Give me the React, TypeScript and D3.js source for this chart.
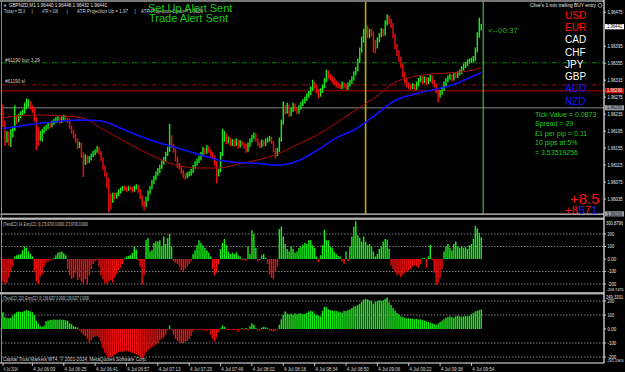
import React from "react";
import * as d3 from "d3";

// ---------- DATA (price in points above 1.96000) ----------
const firstOpen = 250;
const closes = [
  215,175,190,170,185,200,225,220,230,236,
  240,250,258,262,252,245,225,200,180,190,
  195,200,205,210,208,214,218,222,224,218,
  226,228,222,220,205,195,185,175,160,165,
  140,120,135,125,130,138,142,148,155,145,
  130,110,95,80,40,30,45,40,45,52,
  58,62,60,58,62,60,55,63,65,55,
  40,25,20,35,50,62,75,85,95,100,
  110,120,128,140,150,180,160,150,130,115,
  110,100,90,88,92,95,100,110,118,125,
  130,140,150,145,155,148,140,135,120,95,
  100,140,175,185,170,175,165,170,165,172,
  160,168,165,160,150,162,172,180,188,175,
  165,160,170,165,172,175,178,170,150,140,
  150,175,215,250,240,255,235,245,255,248,
  240,250,258,265,270,278,285,295,310,300,
  290,280,290,300,315,335,325,320,315,310,
  305,300,298,305,300,296,305,310,318,330,
  340,360,385,410,430,440,420,430,425,405,
  395,410,420,432,425,450,466,455,445,420,
  395,380,365,350,330,315,305,300,298,302,
  295,305,315,320,312,318,310,316,322,312,
  305,290,280,285,295,305,315,320,325,318,
  328,325,330,335,342,348,352,358,360,362,
  365,385,420,440,441,
];
const highs = [
  258,220,195,194,200,206,256,232,236,242,
  246,262,272,270,266,256,250,228,205,196,
  200,206,210,216,215,220,224,228,230,228,
  230,234,232,226,224,208,198,188,178,170,
  168,145,140,138,136,142,148,152,160,158,
  148,133,114,98,85,48,50,50,50,58,
  62,66,66,64,66,65,63,66,70,68,
  58,44,30,40,55,66,80,90,100,108,
  116,126,134,146,158,212,185,165,154,134,
  120,114,104,95,98,100,106,115,124,130,
  136,146,158,155,162,160,152,145,138,124,
  106,146,200,195,190,182,180,176,174,178,
  175,174,172,168,164,168,178,186,192,190,
  178,170,175,174,178,180,184,182,172,155,
  156,180,222,265,256,262,258,250,262,260,
  252,256,264,270,276,284,290,300,316,312,
  304,294,296,305,320,340,338,330,325,320,
  314,310,306,312,310,306,310,316,324,336,
  346,366,392,418,436,446,444,436,436,430,
  410,416,426,438,436,456,470,468,460,450,
  425,400,386,370,354,335,320,310,306,308,
  306,312,320,326,324,324,322,322,328,326,
  316,308,294,292,300,312,320,326,330,328,
  334,332,336,340,348,354,358,364,366,368,
  372,392,428,462,448,
];
const lows = [
  205,160,168,160,158,180,195,212,216,226,
  232,236,246,252,246,238,218,150,160,172,
  170,190,196,200,202,204,210,214,216,212,
  214,220,216,214,200,188,178,168,152,155,
  132,87,115,118,120,126,134,138,144,140,
  125,104,88,60,3,10,26,34,36,42,
  48,54,55,52,54,55,50,52,58,50,
  35,18,8,16,30,46,58,70,80,90,
  96,106,116,124,136,146,155,144,124,108,
  104,94,84,80,84,88,90,96,106,114,
  120,126,136,140,142,144,135,130,112,72,
  88,98,136,170,164,166,160,160,158,160,
  154,156,160,154,144,146,158,168,176,170,
  160,155,156,160,160,168,170,165,145,130,
  136,146,170,210,234,236,228,230,240,242,
  235,236,246,254,260,266,274,280,290,295,
  284,272,276,285,296,310,318,314,308,304,
  298,296,294,294,296,292,292,300,306,314,
  326,336,356,380,404,424,414,414,418,380,
  378,390,404,416,418,420,444,448,438,414,
  388,372,358,344,322,308,298,294,292,294,
  290,292,300,310,306,308,304,306,312,306,
  298,284,262,274,280,290,300,310,316,312,
  314,320,320,326,330,338,344,348,354,356,
  358,360,380,415,432,
];

// moving averages, read every 10 bars
const maBars = [0,10,20,30,40,50,60,70,80,90,100,110,120,130,140,150,160,170,180,190,200,210,220,230,240,244];
const maBlue = [201,208,214,219,221,219,202,183,167,154,140,127,121,119,115,124,149,179,200,233,267,282,293,305,325,333];
const maRed = [226,232,233,231,227,202,176,151,129,113,108,108,117,127,141,163,185,214,245,275,310,324,330,333,339,344];

// CCI(14) histogram
const cciFast = [
  -180,-200,-190,-150,-100,-60,20,30,35,40,
  70,100,90,60,40,20,-100,-180,-200,-140,
  -120,-60,-30,-20,-10,-5,10,30,50,55,
  60,45,30,-80,-130,-160,-150,-110,-170,-150,
  -180,-200,-160,-200,-130,-80,-40,-20,-5,-60,
  -130,-160,-190,-200,-180,-170,-190,-150,-120,-90,
  -70,-40,5,20,25,30,50,100,75,-10,
  -60,-205,-130,154,168,60,70,128,141,141,
  150,100,180,120,168,200,100,-20,-30,-40,
  -60,-90,-100,-80,-60,-40,-20,40,70,110,
  150,130,110,90,70,50,20,-80,-130,-110,
  -40,80,130,160,110,60,40,50,40,55,
  30,20,-10,5,-15,100,40,230,200,90,
  -20,0,30,40,10,-40,-120,-150,-160,-100,
  -60,240,260,180,120,80,60,100,80,50,
  60,90,100,114,128,120,150,150,110,90,
  20,-25,30,110,234,150,150,100,90,60,
  40,25,20,-20,-40,60,-15,100,180,260,
  300.88,190,170,140,180,140,110,120,100,60,
  20,40,80,100,140,160,155,80,-50,-80,
  -100,-130,-120,-145,-130,-110,-100,-90,-80,-60,
  -50,-60,-70,-40,10,10,-70,20,114,-10,
  -110,-209.75,-190,-150,-80,60,100,120,90,70,
  120,140,100,90,100,90,95,80,110,120,
  160,265,245,210,173.97,
];
// CCI(210) histogram
const cciSlow = [
  120,85,80,76,80,95,110,120,125,122,
  124,128,135,130,125,120,100,60,40,20,
  15,25,55,60,65,66,68,66,66,68,
  66,65,62,58,40,35,20,15,10,-10,
  -25,-40,-50,-70,-100,-80,-60,-55,-50,-60,
  -90,-140,-170,-190,-205,-200,-195,-185,-175,-165,
  -160,-165,-160,-155,-160,-165,-170,-175,-180,-190,
  -200,-210,-190,-165,-150,-140,-130,-120,-110,-100,
  -80,-70,-60,-40,-10,25,-5,-40,-70,-85,
  -95,-100,-100,-90,-85,-70,-50,-20,-5,-10,
  -8,-5,-10,-8,-15,-5,-40,-70,-90,-60,
  -20,5,25,15,-5,-8,-5,-3,-10,-5,
  -20,-3,5,-8,8,-10,20,40,30,5,
  -8,-3,10,15,12,5,-10,-15,-20,-12,
  -5,30,70,100,125,110,105,110,100,112,
  105,110,112,105,108,115,125,130,125,110,
  100,95,90,130,160,155,140,135,132,130,
  128,126,120,115,130,128,135,140,150,160,
  165,170,180,195,210,215,210,205,200,180,
  195,200,205,200,205,215,225,190,170,150,
  130,115,105,90,85,80,75,78,72,75,
  70,72,68,70,65,60,55,50,45,40,
  35,30,40,50,60,70,80,85,90,85,
  80,90,95,90,88,90,92,90,95,105,
  115,125,130,135,139.62,
];

const priceTicks = [475, 395, 355, 315, 275, 235, 195, 155, 115, 75, 35];
const currentPrice = 441;
const buyLevel = 356;
const slLevel = 304;
const redLevel = 290;
const grayLevel = 250;
const baseLevel = 0;
const signalBar = 185;
const nowBar = 245;

const timeLabels = ["4 Jul 2014","4 Jul 06:09","4 Jul 06:25","4 Jul 06:41","4 Jul 06:57","4 Jul 07:13","4 Jul 07:29","4 Jul 07:46","4 Jul 08:02","4 Jul 08:18","4 Jul 08:34","4 Jul 08:50","4 Jul 09:06","4 Jul 09:22","4 Jul 09:38","4 Jul 09:54"];
const timeBars = [0,15,31,47,63,79,95,111,127,143,159,175,191,207,223,239];

const cciLevels = [200, 100, 0, -100, -200];
const cciLevelLabels = ["200", "100", "0.00", "-100", "-200"];
const cci1Extremes = ["300.8796", "-209.7475"];
const cci2Extremes = ["249.3331", "-241.1905"];

const currencies = ["USD","EUR","CAD","CHF","JPY","GBP","AUD","NZD"];
const currencyColors = ["#ff1010","#ff1010","#ffffff","#ffffff","#ffffff","#ffffff","#1414ff","#1414ff"];
const infoLines = ["Tick Value = 0.0873","Spread = 29","£1 per pip = 0.11","10 pips at 5%","= 3.53519256"];

const FONT = "'Liberation Sans', Arial, sans-serif";
const GREEN = "#18ec18";
const RED = "#f01010";

function T(props: any) {
  const { x, y, s, size = 5, fill = "#d8d8d8", len, anchor, weight } = props;
  return (
    <text x={x} y={y} fontSize={size} fill={fill} fontFamily={FONT} textAnchor={anchor}
      fontWeight={weight}
      textLength={len} lengthAdjust={len ? "spacingAndGlyphs" : undefined}>{s}</text>
  );
}

const fmtPrice = (v: number) => (1.96 + v / 100000).toFixed(5);

export default function App() {
  const N = closes.length;
  const x = d3.scaleLinear().domain([0, N - 1]).range([3, 3 + 1.96 * (N - 1)]);
  const y = d3.scaleLinear().domain([475, 35]).range([12.3, 199]);
  const yc1 = d3.scaleLinear().domain([200, -200]).range([234, 284]);
  const yc2 = d3.scaleLinear().domain([200, -200]).range([301, 357]);
  const AX = 604;

  const maLine = d3.line<number>()
    .x((_, i) => x(maBars[i]))
    .y((d) => y(d))
    .curve(d3.curveMonotoneX);

  const candles = closes.map((c, i) => {
    const o = i === 0 ? firstOpen : closes[i - 1];
    const hi = Math.max(highs[i], o, c);
    const lo = Math.min(lows[i], o, c);
    const col = c >= o ? GREEN : RED;
    return <rect key={"c" + i} x={x(i) - 0.7} y={y(hi)} width={1.4} height={Math.max(1, y(lo) - y(hi))} fill={col} />;
  });

  const hist = (arr: number[], ys: any, key: string) =>
    arr.map((v, i) => {
      const y0 = ys(0), y1 = ys(v);
      return <rect key={key + i} x={x(i) - 0.7} y={Math.min(y0, y1)} width={1.4}
        height={Math.max(0.8, Math.abs(y1 - y0))} fill={v >= 0 ? GREEN : RED} />;
    });

  const priceBox = (v: number, bg: string, fg: string, k: string) => (
    <g key={k}>
      <rect x={AX + 1} y={y(v) - 2.6} width={19} height={5.2} fill={bg} />
      <T x={AX + 3} y={y(v) + 1.7} s={fmtPrice(v)} size={4.6} fill={fg} len={15} />
    </g>
  );

  return (
    <svg width={625} height={372} style={{ position: "absolute", left: 0, top: 0, display: "block" }}>
      <rect x={0} y={0} width={625} height={372} fill="#000" />

      {/* horizontal object lines */}
      <line x1={2} x2={AX} y1={y(buyLevel)} y2={y(buyLevel)} stroke="#137a13" strokeWidth={1} strokeDasharray="5,2,1,2" />
      <line x1={2} x2={AX} y1={y(slLevel)} y2={y(slLevel)} stroke="#8c1010" strokeWidth={1} strokeDasharray="5,2,1,2" />
      <line x1={2} x2={AX} y1={y(redLevel)} y2={y(redLevel)} stroke="#b00000" strokeWidth={1} />
      <line x1={2} x2={AX} y1={y(grayLevel)} y2={y(grayLevel)} stroke="#5a5a5a" strokeWidth={1.6} />
      <line x1={2} x2={AX} y1={y(baseLevel)} y2={y(baseLevel)} stroke="#8a8a8a" strokeWidth={1.2} />

      {/* vertical lines */}
      <line x1={x(signalBar)} x2={x(signalBar)} y1={2} y2={214} stroke="#c2a800" strokeWidth={1.6} />
      <line x1={x(nowBar)} x2={x(nowBar)} y1={2} y2={214} stroke="#3ae63a" strokeWidth={1} />

      {/* candles */}
      <g>{candles}</g>

      {/* moving averages */}
      <path d={maLine(maRed) || ""} fill="none" stroke="#b40a0a" strokeWidth={1} />
      <path d={maLine(maBlue) || ""} fill="none" stroke="#1010ff" strokeWidth={1.6} />

      {/* header texts */}
      <T x={3} y={6.7} s="▼" size={4} fill="#e0e0e0" />
      <T x={9} y={6.7} s="GBPNZD,M1  1.96440 1.96448 1.96432 1.96441" size={5} fill="#e0e0e0" len={98} />
      <T x={4} y={12.6} s="Today = 55.3" size={4.8} fill="#cfcfcf" len={21} />
      <T x={31.5} y={12.6} s="|" size={4.8} fill="#cfcfcf" />
      <T x={42} y={12.6} s="ATR = 108" size={4.8} fill="#cfcfcf" len={16} />
      <T x={66.5} y={12.6} s="|" size={4.8} fill="#cfcfcf" />
      <T x={77} y={12.6} s="ATR Projection Up = 1.97" size={4.8} fill="#cfcfcf" len={51} />
      <T x={134.5} y={12.6} s="|" size={4.8} fill="#cfcfcf" />
      <T x={141} y={12.6} s="ATR Projection Down = 1.9639" size={4.8} fill="#cfcfcf" len={62} />
      <T x={148} y={11.6} s="Set Up Alert Sent" size={11} fill="#19c819" />
      <T x={149} y={21.6} s="Trade Alert Sent" size={11} fill="#19c819" />

      <T x={5} y={62} s="#61190 buy 3.29" size={4.8} fill="#d0d0d0" len={35} />
      <T x={5} y={83} s="#61190 sl" size={4.8} fill="#d0d0d0" len={20} />

      <T x={530} y={7.4} s="Clive's 1 min trailing BUY entry" size={4.8} fill="#e8e8e8" len={66} />
      <circle cx={600} cy={5.4} r={2} fill="none" stroke="#e8e8e8" strokeWidth={0.6} />

      {currencies.map((c, i) => (
        <T key={c} x={565} y={18.6 + i * 12.3} s={c} size={10} fill={currencyColors[i]} />
      ))}

      <T x={488} y={33.3} s="<--00:37" size={6.5} fill="#1fb41f" len={30} />

      {infoLines.map((s, i) => (
        <T key={s} x={535} y={116.6 + i * 9.6} s={s} size={7} fill="#22c822" />
      ))}

      <T x={570} y={204} s="+8.5" size={15} fill="#ff1010" />
      <text x={565} y={213.6} fontSize={11.5} fontFamily={FONT}>
        <tspan fill="#ff1010">+8</tspan><tspan fill="#2020ff">5</tspan><tspan fill="#ff1010">7</tspan><tspan fill="#2020ff">1</tspan>
      </text>

      {/* CCI panel 1 */}
      {cciLevels.filter((l) => l !== 0).map((l) => (
        <line key={"l1" + l} x1={2} x2={AX} y1={yc1(l)} y2={yc1(l)} stroke="#9a9a9a" strokeWidth={0.8} strokeDasharray="1.5,1.5" />
      ))}
      <g>{hist(cciFast, yc1, "f")}</g>
      <T x={3} y={226} s="(TrendCCI: 14, EntryCCI: 0)  173.9700 0.0000 173.9700 0.0000" size={4.8} fill="#d0d0d0" len={85} />

      {/* CCI panel 2 */}
      {cciLevels.filter((l) => l !== 0).map((l) => (
        <line key={"l2" + l} x1={2} x2={AX} y1={yc2(l)} y2={yc2(l)} stroke="#9a9a9a" strokeWidth={0.8} strokeDasharray="1.5,1.5" />
      ))}
      <g>{hist(cciSlow, yc2, "s")}</g>
      <T x={3} y={300} s="(TrendCCI: 210, EntryCCI: 0)  139.6207 0.0000 139.6207 0.0000" size={4.8} fill="#d0d0d0" len={86} />
      <T x={3} y={361} s="Capital Trust Markets MT4, © 2001-2014, MetaQuotes Software Corp." size={4.8} fill="#d0d0d0" len={144} />

      {/* frames and separators */}
      <line x1={0} x2={AX} y1={1} y2={1} stroke="#f0f0f0" strokeWidth={1.2} />
      <line x1={1.5} x2={1.5} y1={1} y2={363} stroke="#8a8a8a" strokeWidth={1} />
      <line x1={0} x2={AX} y1={214.5} y2={214.5} stroke="#9a9a9a" strokeWidth={1} />
      <rect x={0} y={217.6} width={AX} height={2.2} fill="#b8b8b8" />
      <rect x={0} y={292.2} width={AX} height={2.2} fill="#b8b8b8" />
      <line x1={0} x2={AX} y1={363} y2={363} stroke="#f0f0f0" strokeWidth={1.2} />
      <line x1={AX} x2={AX} y1={0} y2={363} stroke="#f0f0f0" strokeWidth={1.2} />

      {/* price axis */}
      {priceTicks.map((v) => (
        <g key={"pt" + v}>
          <line x1={AX} x2={AX + 2} y1={y(v)} y2={y(v)} stroke="#f0f0f0" strokeWidth={0.8} />
          <T x={AX + 3.5} y={y(v) + 1.7} s={fmtPrice(v)} size={4.6} fill="#e8e8e8" len={15} />
        </g>
      ))}
      {priceBox(currentPrice, "#ffffff", "#000000", "cur")}
      {priceBox(redLevel, "#d01010", "#f0f0f0", "red")}
      {priceBox(grayLevel, "#9a9a9a", "#101010", "gray")}
      {priceBox(baseLevel, "#9a9a9a", "#101010", "base")}

      {/* cci axes */}
      {cciLevels.map((l, i) => (
        <g key={"a1" + l}>
          <line x1={AX} x2={AX + 2} y1={yc1(l)} y2={yc1(l)} stroke="#f0f0f0" strokeWidth={0.8} />
          <T x={AX + 3.5} y={yc1(l) + 1.7} s={cciLevelLabels[i]} size={4.6} fill="#e8e8e8" len={cciLevelLabels[i].length * 2.2} />
          <line x1={AX} x2={AX + 2} y1={yc2(l)} y2={yc2(l)} stroke="#f0f0f0" strokeWidth={0.8} />
          <T x={AX + 3.5} y={yc2(l) + 1.7} s={cciLevelLabels[i]} size={4.6} fill="#e8e8e8" len={cciLevelLabels[i].length * 2.2} />
        </g>
      ))}
      <T x={AX + 2} y={224.6} s={cci1Extremes[0]} size={4.6} fill="#e8e8e8" len={17} />
      <T x={AX + 2.5} y={291.2} s={cci1Extremes[1]} size={4.4} fill="#e8e8e8" len={17} />
      <T x={AX + 2} y={298.6} s={cci2Extremes[0]} size={4.6} fill="#e8e8e8" len={17} />
      <T x={AX + 2.5} y={361.6} s={cci2Extremes[1]} size={4.4} fill="#e8e8e8" len={17} />

      {/* time axis */}
      {timeLabels.map((s, i) => (
        <g key={"t" + i}>
          <line x1={x(timeBars[i])} x2={x(timeBars[i])} y1={363} y2={366} stroke="#f0f0f0" strokeWidth={0.8} />
          <T x={x(timeBars[i]) + 0.8} y={370.6} s={s} size={4.8} fill="#d8d8d8" len={i === 0 ? 14 : 22} />
        </g>
      ))}
    </svg>
  );
}
